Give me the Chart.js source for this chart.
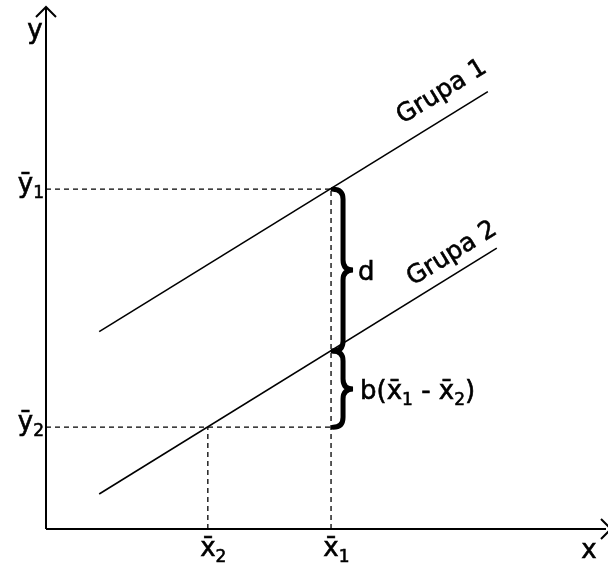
<!DOCTYPE html>
<html>
<head>
<meta charset="utf-8">
<script src="https://cdn.jsdelivr.net/npm/chart.js@4.4.0/dist/chart.umd.min.js"></script>
<style>
  html, body { margin: 0; padding: 0; background: #fff; }
  #wrap { width: 608px; height: 563px; }
</style>
</head>
<body>
<div id="wrap"><canvas id="chart" width="608" height="563"></canvas></div>
<script>
// group means: [grupa 2, grupa 1]
const xMeans = [2.89, 5.09];
const yMeans = [1.95, 6.51];

// parallel regression lines, end points
const grupa1 = [{ x: 0.95, y: 3.78 }, { x: 7.89, y: 8.38 }];
const grupa2 = [{ x: 0.95, y: 0.67 }, { x: 8.05, y: 5.38 }];

// grupa 2 line at x̄1
const grupa2AtX1 = 3.41;

const lineLabels = ['Grupa 1', 'Grupa 2'];
const lineLabelPos = [{ x: 7.07, y: 8.37 }, { x: 7.25, y: 5.27 }];

const axisMax = 10;

const FONT = '"DejaVu Sans", Verdana, sans-serif';
const font = size => `${size}px ${FONT}`;
const SIZE = 26, SUB = 17;

const seg = (data, extra = {}) => Object.assign({
    data,
    showLine: true,
    borderColor: '#000',
    borderWidth: 1,
    pointRadius: 0,
    clip: false
}, extra);

const dashed = { borderDash: [5, 4], borderWidth: 1.3 };

// filled text with a hairline stroke so it reads a bit heavier
function text(ctx, str, x, y) {
    ctx.fillText(str, x, y);
    ctx.strokeText(str, x, y);
}

// draws text pieces left to right, subscripts smaller and lower
function drawRun(ctx, parts, x, y) {
    parts.forEach(([txt, sub]) => {
        ctx.font = font(sub ? SUB : SIZE);
        text(ctx, txt, x, sub ? y + 6 : y);
        x += ctx.measureText(txt).width;
    });
    return x;
}

function runWidth(ctx, parts) {
    return parts.reduce((w, [txt, sub]) => {
        ctx.font = font(sub ? SUB : SIZE);
        return w + ctx.measureText(txt).width;
    }, 0);
}

// curly brace opening to the left, tip pointing right
function brace(ctx, x, top, bottom, w) {
    const mid = (top + bottom) / 2;
    const r = Math.min(10, (bottom - top) / 6);
    const xm = x + w / 2;
    ctx.beginPath();
    ctx.moveTo(x, top);
    ctx.quadraticCurveTo(xm, top, xm, top + r);
    ctx.lineTo(xm, mid - r);
    ctx.quadraticCurveTo(xm, mid, x + w, mid);
    ctx.quadraticCurveTo(xm, mid, xm, mid + r);
    ctx.lineTo(xm, bottom - r);
    ctx.quadraticCurveTo(xm, bottom, x, bottom);
    ctx.stroke();
}

const annotations = {
    id: 'annotations',
    afterDraw(chart) {
        const { ctx, scales: { x, y } } = chart;
        const ox = x.getPixelForValue(0);
        const oy = y.getPixelForValue(0);
        const yTop = y.getPixelForValue(axisMax);
        const xEnd = x.getPixelForValue(axisMax);

        ctx.save();
        ctx.strokeStyle = '#000';
        ctx.fillStyle = '#000';

        // arrow heads
        ctx.lineWidth = 2;
        ctx.beginPath();
        ctx.moveTo(ox - 10, yTop + 10);
        ctx.lineTo(ox, yTop);
        ctx.lineTo(ox + 10, yTop + 10);
        ctx.moveTo(xEnd - 5, oy - 10);
        ctx.lineTo(xEnd + 5, oy);
        ctx.lineTo(xEnd - 5, oy + 10);
        ctx.stroke();

        // braces d and b(x̄1 - x̄2)
        const bx = x.getPixelForValue(xMeans[1]) + 2;
        const p1 = y.getPixelForValue(yMeans[1]);
        const p2 = y.getPixelForValue(grupa2AtX1);
        const p3 = y.getPixelForValue(yMeans[0]);
        ctx.lineWidth = 5;
        ctx.lineCap = 'round';
        brace(ctx, bx, p1, p2, 20);
        brace(ctx, bx, p2, p3, 20);

        ctx.lineWidth = 0.6;
        ctx.lineCap = 'butt';
        ctx.textBaseline = 'alphabetic';
        ctx.textAlign = 'left';
        ctx.font = font(SIZE);
        text(ctx, 'd', bx + 25, (p1 + p2) / 2 + 10);
        drawRun(ctx, [['b(x\u0304', false], ['1', true], [' - x\u0304', false], ['2', true], [')', false]],
            bx + 27, (p2 + p3) / 2 + 10);

        // axis names
        ctx.textAlign = 'center';
        ctx.font = font(SIZE);
        text(ctx, 'y', ox - 11, yTop + 31);
        text(ctx, 'x', xEnd - 17, oy + 29);

        // mean labels on the y axis
        ctx.textAlign = 'left';
        yMeans.forEach((v, i) => {
            const parts = [['\u0233', false], [String(2 - i), true]];
            const w = runWidth(ctx, parts);
            drawRun(ctx, parts, ox - 2 - w, y.getPixelForValue(v) + 3);
        });

        // mean labels on the x axis
        xMeans.forEach((v, i) => {
            ctx.font = font(SIZE);
            const w = ctx.measureText('x\u0304').width;
            drawRun(ctx, [['x\u0304', false], [String(2 - i), true]],
                x.getPixelForValue(v) - w / 2, oy + 27);
        });

        // line names, rotated along the lines
        [grupa1, grupa2].forEach((line, i) => {
            const ax = x.getPixelForValue(line[0].x), ay = y.getPixelForValue(line[0].y);
            const bx2 = x.getPixelForValue(line[1].x), by = y.getPixelForValue(line[1].y);
            const angle = Math.atan2(by - ay, bx2 - ax);
            ctx.save();
            ctx.translate(x.getPixelForValue(lineLabelPos[i].x), y.getPixelForValue(lineLabelPos[i].y));
            ctx.rotate(angle);
            ctx.textAlign = 'center';
            ctx.textBaseline = 'middle';
            ctx.font = font(25);
            text(ctx, lineLabels[i], 0, 0);
            ctx.restore();
        });

        ctx.restore();
    }
};

new Chart(document.getElementById('chart'), {
    type: 'scatter',
    data: {
        datasets: [
            seg([{ x: 0, y: yMeans[1] }, { x: xMeans[1], y: yMeans[1] }], dashed),
            seg([{ x: xMeans[1], y: 0 }, { x: xMeans[1], y: yMeans[1] }], dashed),
            seg([{ x: 0, y: yMeans[0] }, { x: xMeans[1], y: yMeans[0] }], dashed),
            seg([{ x: xMeans[0], y: 0 }, { x: xMeans[0], y: yMeans[0] }], dashed),
            seg(grupa1, { borderWidth: 1.6 }),
            seg(grupa2, { borderWidth: 1.6 }),
            seg([{ x: 0, y: 0 }, { x: axisMax, y: 0 }], { borderWidth: 2 }),
            seg([{ x: 0, y: 0 }, { x: 0, y: axisMax }], { borderWidth: 2 })
        ]
    },
    options: {
        responsive: false,
        animation: false,
        events: [],
        layout: { padding: { left: 46, right: 2, top: 7, bottom: 34 } },
        plugins: {
            legend: { display: false },
            tooltip: { enabled: false }
        },
        scales: {
            x: { type: 'linear', min: 0, max: axisMax, display: false },
            y: { type: 'linear', min: 0, max: axisMax, display: false }
        }
    },
    plugins: [annotations]
});
</script>
</body>
</html>
